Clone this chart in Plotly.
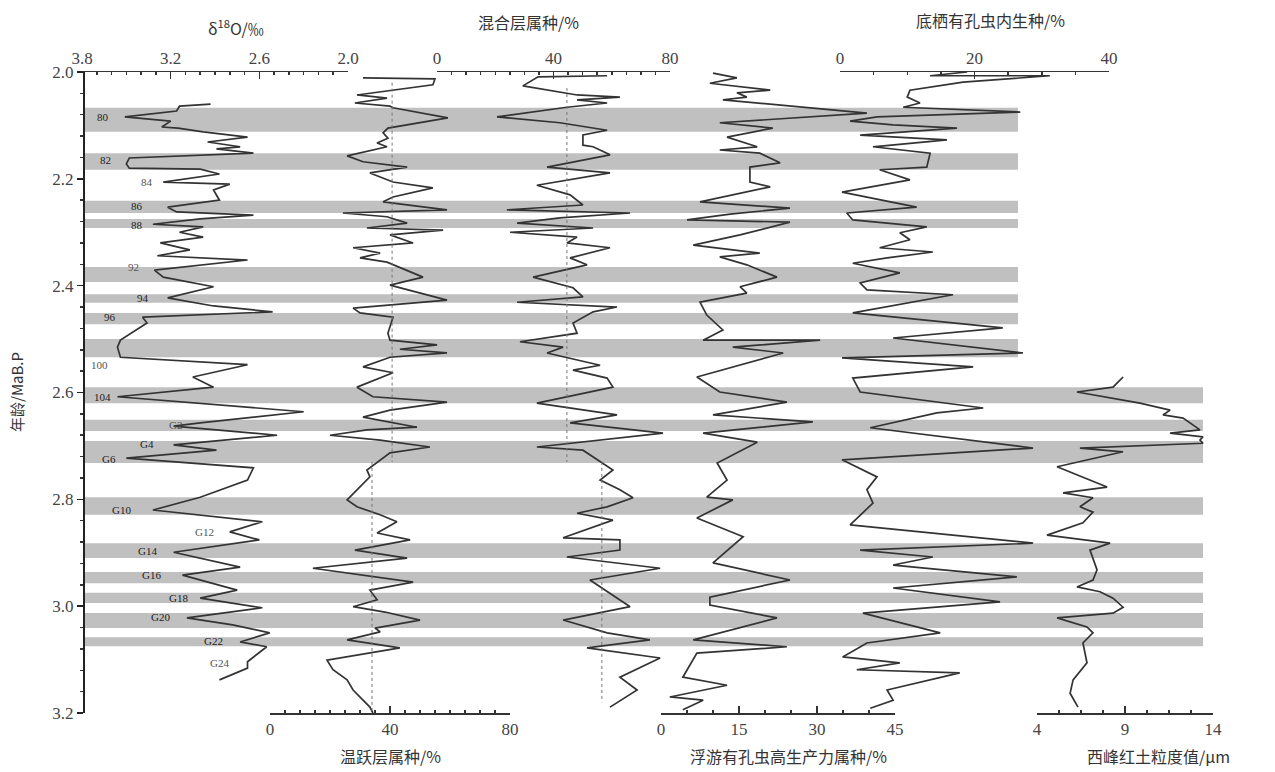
import plotly.graph_objects as go

W, H = 1275, 772

# ---------------- data ----------------
# delta 18O (per mil) vs age (Ma BP)
d18o_age = [2.060, 2.064, 2.073, 2.084, 2.092, 2.103, 2.105, 2.112, 2.122, 2.131, 2.140, 2.144, 2.152,
            2.161, 2.172, 2.180, 2.182, 2.191, 2.206, 2.210, 2.221, 2.240, 2.253, 2.262, 2.268, 2.275,
            2.285, 2.290, 2.300, 2.309, 2.320, 2.333, 2.344, 2.352, 2.371, 2.384, 2.402, 2.423, 2.438,
            2.449, 2.459, 2.470, 2.502, 2.515, 2.534, 2.548, 2.571, 2.590, 2.608, 2.636, 2.657, 2.663,
            2.680, 2.698, 2.708, 2.723, 2.741, 2.764, 2.796, 2.820, 2.842, 2.861, 2.876, 2.899, 2.927,
            2.942, 2.970, 2.985, 3.003, 3.022, 3.035, 3.050, 3.067, 3.076, 3.104, 3.116, 3.138]
d18o_val = [2.93, 3.14, 3.16, 3.51, 3.20, 3.26, 3.15, 2.98, 2.68, 2.95, 2.73, 2.89, 2.64,
            3.48, 3.50, 3.48, 3.00, 2.87, 3.25, 2.80, 2.91, 2.87, 3.22, 3.16, 2.64, 3.00,
            3.32, 2.98, 3.14, 2.98, 3.27, 3.07, 3.29, 2.68, 3.31, 3.25, 2.91, 3.22, 2.91,
            2.51, 3.39, 3.36, 3.54, 3.56, 3.54, 2.68, 3.05, 2.91, 3.56, 2.30, 3.00, 3.18,
            2.48, 3.18, 2.89, 3.50, 2.64, 2.68, 3.00, 3.32, 2.58, 2.80, 2.60, 3.18, 2.73,
            3.12, 2.75, 3.00, 2.58, 3.09, 2.78, 2.53, 2.73, 2.55, 2.68, 2.68, 2.87]

# thermocline genera (%)
thermo_age = [2.011, 2.013, 2.024, 2.043, 2.049, 2.058, 2.064, 2.067, 2.086, 2.105, 2.114, 2.124, 2.133,
              2.140, 2.157, 2.168, 2.178, 2.189, 2.206, 2.217, 2.234, 2.243, 2.258, 2.264, 2.271, 2.283,
              2.292, 2.296, 2.305, 2.320, 2.329, 2.339, 2.348, 2.356, 2.384, 2.399, 2.427, 2.442, 2.451,
              2.459, 2.489, 2.502, 2.511, 2.519, 2.526, 2.534, 2.552, 2.563, 2.590, 2.608, 2.618, 2.633,
              2.646, 2.665, 2.670, 2.680, 2.689, 2.702, 2.713, 2.745, 2.758, 2.801, 2.814, 2.829, 2.842,
              2.863, 2.876, 2.895, 2.910, 2.929, 2.955, 2.970, 2.988, 3.001, 3.011, 3.026, 3.041, 3.048,
              3.063, 3.078, 3.101, 3.119, 3.138, 3.157, 3.189, 3.200]
thermo_val = [31.0, 55.0, 54.3, 29.0, 39.0, 28.3, 40.0, 41.0, 59.3, 39.3, 37.7, 39.3, 35.7,
              39.0, 25.7, 31.0, 45.7, 33.3, 41.0, 54.3, 41.0, 37.7, 59.0, 24.3, 39.0, 45.7,
              32.3, 57.7, 40.0, 47.7, 27.7, 36.7, 30.0, 39.0, 51.0, 40.0, 59.0, 27.7, 30.0,
              41.0, 39.3, 40.0, 55.7, 43.3, 59.0, 40.0, 31.0, 41.0, 29.0, 34.3, 59.0, 40.0,
              31.0, 49.0, 32.3, 20.0, 36.7, 53.3, 40.0, 32.3, 33.3, 25.7, 29.0, 36.7, 42.3,
              35.7, 46.7, 28.3, 45.7, 14.3, 47.7, 33.3, 35.7, 27.7, 38.3, 50.0, 35.0, 36.7,
              25.7, 43.3, 19.0, 21.0, 25.7, 27.7, 33.3, 34.3]
thermo_mean_age = [[2.02, 2.73], [2.73, 3.20]]
thermo_mean_val = [40.7, 34.0]

# mixed-layer genera (%)
mixed_age = [2.007, 2.009, 2.026, 2.043, 2.047, 2.052, 2.058, 2.066, 2.084, 2.095, 2.109, 2.118, 2.137,
             2.140, 2.155, 2.178, 2.189, 2.212, 2.230, 2.249, 2.258, 2.264, 2.273, 2.283, 2.292, 2.300,
             2.309, 2.320, 2.329, 2.348, 2.361, 2.384, 2.404, 2.421, 2.431, 2.440, 2.449, 2.470, 2.489,
             2.505, 2.515, 2.526, 2.549, 2.558, 2.573, 2.590, 2.620, 2.642, 2.657, 2.676, 2.702, 2.708,
             2.745, 2.764, 2.782, 2.797, 2.814, 2.826, 2.839, 2.872, 2.876, 2.895, 2.908, 2.929, 2.951,
             2.979, 3.001, 3.026, 3.050, 3.063, 3.078, 3.097, 3.133, 3.157, 3.189]
mixed_val = [58.4, 34.7, 29.5, 48.1, 62.8, 48.1, 58.4, 44.6, 20.6, 42.2, 58.4, 50.1, 50.1,
             53.6, 59.4, 37.8, 59.4, 34.3, 45.7, 50.1, 24.0, 66.3, 42.2, 27.5, 53.6, 25.1,
             48.1, 44.6, 59.4, 45.7, 51.5, 33.0, 46.7, 50.1, 27.5, 61.8, 53.6, 46.7, 48.1,
             28.5, 43.3, 37.8, 56.0, 46.7, 58.4, 60.4, 34.3, 61.8, 45.7, 77.6, 34.3, 50.1,
             60.4, 56.0, 62.8, 67.3, 58.4, 48.1, 60.4, 43.3, 62.8, 62.8, 44.6, 76.6, 52.5,
             60.4, 66.3, 43.3, 58.4, 73.1, 51.5, 76.6, 62.8, 68.7, 59.4]
mixed_mean_age = [[2.03, 2.73], [2.73, 3.18]]
mixed_mean_val = [44.6, 56.6]

# planktonic foraminifera high-productivity genera (%)
prod_age = [2.002, 2.011, 2.021, 2.034, 2.039, 2.047, 2.052, 2.077, 2.095, 2.105, 2.122, 2.140, 2.146,
            2.152, 2.170, 2.178, 2.206, 2.215, 2.243, 2.255, 2.266, 2.277, 2.281, 2.305, 2.324, 2.339,
            2.346, 2.361, 2.384, 2.402, 2.414, 2.431, 2.455, 2.483, 2.502, 2.502, 2.515, 2.526, 2.571,
            2.599, 2.618, 2.642, 2.655, 2.676, 2.693, 2.732, 2.764, 2.796, 2.801, 2.835, 2.870, 2.919,
            2.951, 2.983, 2.998, 3.022, 3.063, 3.076, 3.088, 3.133, 3.148, 3.170, 3.176, 3.194]
prod_val = [10.0, 14.6, 9.4, 21.0, 14.6, 16.5, 11.9, 39.6, 11.3, 21.5, 12.7, 18.5, 11.3,
            19.0, 22.9, 17.1, 17.1, 21.0, 7.5, 24.8, 13.3, 5.0, 24.8, 15.2, 6.2, 19.0,
            11.3, 16.5, 22.3, 15.2, 16.5, 7.5, 8.8, 11.9, 8.1, 30.6, 13.8, 23.5, 6.9,
            11.3, 24.2, 10.0, 29.2, 8.1, 18.5, 10.8, 12.7, 8.8, 13.8, 6.9, 15.8, 10.0,
            24.8, 9.4, 9.4, 22.3, 6.2, 24.2, 6.9, 4.2, 12.7, 1.7, 8.1, 4.2]

# benthic foraminifera infaunal species (%)
benth_age = [2.000, 2.007, 2.007, 2.019, 2.034, 2.047, 2.058, 2.066, 2.075, 2.084, 2.092, 2.099, 2.105,
             2.118, 2.127, 2.140, 2.152, 2.178, 2.183, 2.202, 2.225, 2.253, 2.264, 2.277, 2.290, 2.301,
             2.314, 2.329, 2.337, 2.348, 2.358, 2.376, 2.395, 2.408, 2.417, 2.451, 2.479, 2.498, 2.526,
             2.535, 2.552, 2.573, 2.599, 2.629, 2.638, 2.666, 2.704, 2.726, 2.758, 2.782, 2.807, 2.848,
             2.882, 2.895, 2.908, 2.923, 2.945, 2.966, 2.992, 3.013, 3.050, 3.069, 3.095, 3.106, 3.119,
             3.125, 3.157, 3.176, 3.191]
benth_val = [18.9, 13.4, 31.2, 18.3, 10.4, 10.0, 11.9, 9.4, 26.8, 5.5, 1.5, 7.9, 17.4,
             3.0, 15.9, 4.9, 13.4, 12.9, 5.9, 10.4, 0.3, 11.4, 1.0, 1.9, 12.9, 8.9,
             10.4, 5.9, 13.8, 7.0, 1.9, 8.9, 3.0, 4.0, 16.8, 1.9, 24.2, 7.9, 27.2,
             0.3, 19.8, 1.9, 3.0, 21.3, 14.4, 4.5, 28.7, 0.3, 5.5, 4.0, 4.9, 1.5,
             28.7, 3.0, 13.8, 7.9, 26.3, 7.9, 23.8, 3.4, 14.9, 4.0, 0.4, 8.9, 2.5,
             17.8, 7.0, 7.9, 4.5]

# Xifeng red clay grain size (um)
grain_age = [2.571, 2.590, 2.599, 2.620, 2.633, 2.642, 2.648, 2.670, 2.676, 2.683, 2.689, 2.695, 2.704,
             2.711, 2.739, 2.758, 2.777, 2.788, 2.797, 2.814, 2.824, 2.844, 2.867, 2.882, 2.895, 2.932,
             2.951, 2.964, 2.973, 2.985, 3.002, 3.013, 3.022, 3.039, 3.050, 3.069, 3.106, 3.138, 3.163,
             3.189]
grain_val = [8.89, 8.32, 6.27, 9.85, 11.56, 11.16, 12.30, 13.26, 11.56, 13.43, 13.26, 13.43, 6.44,
             8.89, 5.14, 6.61, 7.98, 5.48, 7.18, 6.44, 7.18, 6.61, 4.57, 8.15, 7.01, 7.41,
             7.18, 6.27, 7.58, 8.32, 8.89, 8.32, 5.14, 6.84, 7.18, 6.61, 6.84, 6.05, 5.88,
             6.33]

# glacial stage bands (top age, bottom age, short/long)
band_top = [2.067, 2.152, 2.241, 2.275, 2.365, 2.416, 2.451, 2.500,
            2.590, 2.651, 2.691, 2.796, 2.882, 2.936, 2.975, 3.013, 3.058]
band_bot = [2.112, 2.183, 2.264, 2.292, 2.393, 2.432, 2.472, 2.534,
            2.620, 2.672, 2.732, 2.829, 2.910, 2.957, 2.994, 3.041, 3.075]
band_long = [False] * 8 + [True] * 9

# isotope stage labels (age, delta18O position)
stage_lbl = ["80", "82", "84", "86", "88", "92", "94", "96", "100", "104",
             "G2", "G4", "G6", "G10", "G12", "G14", "G16", "G18", "G20", "G22", "G24"]
stage_age = [2.084, 2.165, 2.206, 2.251, 2.286, 2.365, 2.423, 2.459, 2.549, 2.608,
             2.661, 2.696, 2.724, 2.820, 2.861, 2.897, 2.942, 2.985, 3.020, 3.065, 3.106]
stage_pos = [3.66, 3.64, 3.36, 3.43, 3.43, 3.45, 3.39, 3.61, 3.68, 3.66,
             3.17, 3.36, 3.62, 3.53, 2.97, 3.36, 3.33, 3.15, 3.27, 2.91, 2.87]
stage_in_band = [True, True, False, True, True, False, True, True, False, True,
                 False, True, True, True, False, True, True, True, True, True, False]

# ---------------- figure ----------------
LINE = "#333333"
SERIF = "Liberation Serif"
CJK = "Noto Sans CJK SC"


def px(x):
    return x / W


def py(y):
    return 1 - y / H


fig = go.Figure()


def add_curve(age, val, xa):
    fig.add_trace(go.Scatter(x=val, y=age, xaxis=xa, yaxis="y", mode="lines",
                             line=dict(color=LINE, width=1.7), showlegend=False,
                             hoverinfo="skip"))


add_curve(d18o_age, d18o_val, "x")
add_curve(thermo_age, thermo_val, "x2")
add_curve(mixed_age, mixed_val, "x3")
add_curve(prod_age, prod_val, "x4")
add_curve(benth_age, benth_val, "x5")
add_curve(grain_age, grain_val, "x6")

for ages, v in zip(thermo_mean_age, thermo_mean_val):
    fig.add_trace(go.Scatter(x=[v, v], y=ages, xaxis="x2", yaxis="y", mode="lines",
                             line=dict(color="#777", width=1, dash="dot"), showlegend=False,
                             hoverinfo="skip"))
for ages, v in zip(mixed_mean_age, mixed_mean_val):
    fig.add_trace(go.Scatter(x=[v, v], y=ages, xaxis="x3", yaxis="y", mode="lines",
                             line=dict(color="#777", width=1, dash="dot"), showlegend=False,
                             hoverinfo="skip"))

# bands
for t, b, lg in zip(band_top, band_bot, band_long):
    fig.add_shape(type="rect", xref="paper", yref="y", x0=px(83), x1=px(1203 if lg else 1018),
                  y0=t, y1=b, fillcolor="#c0c0c0", line=dict(width=0), layer="below")

# stage labels
for lbl, a, p, inb in zip(stage_lbl, stage_age, stage_pos, stage_in_band):
    fig.add_annotation(x=p, y=a, xref="x", yref="y", text=lbl, showarrow=False,
                       font=dict(family=SERIF, size=11, color="#222" if inb else "#555"),
                       xanchor="center", yanchor="middle")

ydom = [py(713), py(72)]
tickfont = dict(family=SERIF, size=17, color="#444")


def xax(dom_px, rng, side, **kw):
    d = dict(domain=[px(dom_px[0]), px(dom_px[1])], range=rng, side=side, anchor="y",
             showline=True, linecolor="#333", linewidth=1.5, showgrid=False, zeroline=False,
             ticks="inside", ticklen=7, tickcolor="#333", tickwidth=1.5, tickfont=tickfont,
             automargin=False, fixedrange=True)
    d.update(kw)
    return d


layout = dict(
    template="none",
    width=W, height=H, margin=dict(l=0, r=0, t=0, b=0, pad=0, autoexpand=False),
    paper_bgcolor="white", plot_bgcolor="rgba(0,0,0,0)",
    yaxis=dict(domain=ydom, range=[3.2, 2.0], anchor="free", position=px(84),
               showline=True, linecolor="#222", linewidth=2, showgrid=False, zeroline=False,
               tick0=2.0, dtick=0.2, tickformat=".1f", ticks="outside", ticklen=6,
               tickcolor="#222", tickwidth=1.5, tickfont=tickfont, automargin=False,
               fixedrange=True,
               minor=dict(dtick=0.04, tick0=2.0, ticks="outside", ticklen=3, tickcolor="#333",
                          showgrid=False)),
    xaxis=xax([82, 348], [3.8, 2.0], "top", tick0=2.0, dtick=0.6, tickformat=".1f",
              minor=dict(dtick=0.1, tick0=2.0, ticks="inside", ticklen=3, tickcolor="#333",
                         showgrid=False)),
    xaxis2=xax([270, 510], [0, 80], "bottom", tick0=0, dtick=40,
               minor=dict(dtick=5, tick0=0, ticks="inside", ticklen=3, tickcolor="#333",
                          showgrid=False)),
    xaxis3=xax([437, 670], [0, 80], "top", tick0=0, dtick=40,
               minor=dict(dtick=5, tick0=0, ticks="inside", ticklen=3, tickcolor="#333",
                          showgrid=False)),
    xaxis4=xax([661, 895], [0, 45], "bottom", tick0=0, dtick=15,
               minor=dict(dtick=5, tick0=0, ticks="inside", ticklen=3, tickcolor="#333",
                          showgrid=False)),
    xaxis5=xax([840, 1109], [0, 40], "top", tick0=0, dtick=20,
               minor=dict(dtick=5, tick0=0, ticks="inside", ticklen=3, tickcolor="#333",
                          showgrid=False)),
    xaxis6=xax([1037, 1213], [4, 14], "bottom", tick0=4, dtick=5,
               minor=dict(dtick=1.25, tick0=4, ticks="inside", ticklen=3, tickcolor="#333",
                          showgrid=False)),
    showlegend=False,
    hovermode=False,
)
fig.update_layout(**layout)

titles = [
    ("δ<sup>18</sup>O/‰", 236, 27),
    ("混合层属种/%", 528, 22),
    ("底栖有孔虫内生种/%", 990, 20),
    ("温跃层属种/%", 390, 756),
    ("浮游有孔虫高生产力属种/%", 788, 756),
    ("西峰红土粒度值/μm", 1158, 756),
]
for txt, x, y in titles:
    fig.add_annotation(x=px(x), y=py(y), xref="paper", yref="paper", text=txt, showarrow=False,
                       font=dict(family=CJK, size=16, color="#333"), xanchor="center", yanchor="middle")

fig.add_annotation(x=px(16), y=py(392), xref="paper", yref="paper", text="年龄/MaB.P",
                   textangle=-90, showarrow=False, font=dict(family=CJK, size=15, color="#333"),
                   xanchor="center", yanchor="middle")

fig.write_html("out.html",
               config={"displayModeBar": False, "staticPlot": True},
               post_script="document.body.style.margin='0px';document.body.style.padding='0px';"
                           "document.body.style.overflow='hidden';")
